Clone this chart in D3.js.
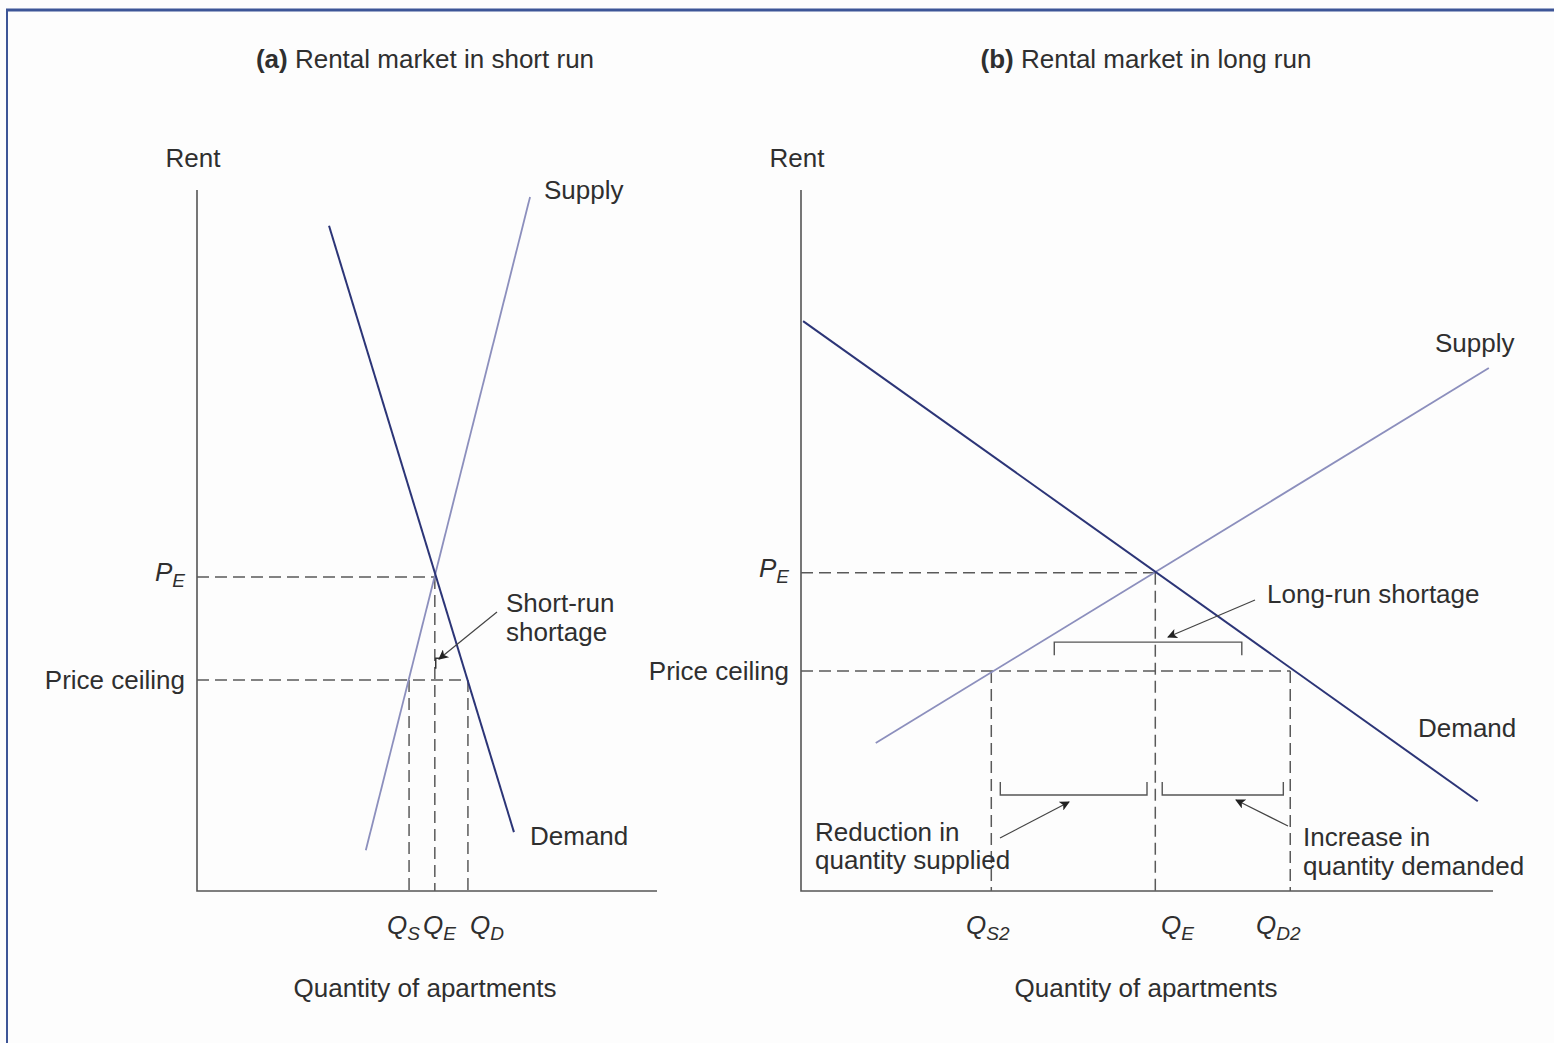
<!DOCTYPE html>
<html><head><meta charset="utf-8">
<script src="https://cdn.jsdelivr.net/npm/d3@7"></script>
<style>
html,body{margin:0;padding:0;background:#fdfdfd;}
svg{display:block;}
text{font-family:"Liberation Sans",Arial,sans-serif;fill:#2f2f2f;}
</style></head>
<body>
<svg id="chart" width="1554" height="1043"></svg>
<script>
// ---------- data (arbitrary units, 0-100 on both axes) ----------
const panelTitles = ["Rental market in short run", "Rental market in long run"];
const panelTags = ["(a)", "(b)"];
// panel (a): short run
const demandA = [[28.7, 94.9], [68.9, 8.4]];
const supplyA = [[36.7, 5.8], [72.4, 99.0]];
const priceA = {PE: 44.8, ceiling: 30.1};
const qA = {QS: 46.1, QE: 51.7, QD: 58.9};
const qLabelsA = [["Q", "S", 46.1], ["Q", "E", 51.7], ["Q", "D", 58.9]];
// panel (b): long run
const demandB = [[0.3, 81.3], [97.8, 12.8]];
const supplyB = [[10.8, 21.1], [99.4, 74.6]];
const priceB = {PE: 45.4, ceiling: 31.4};
const qB = {QS2: 27.5, QE: 51.2, QD2: 70.7};
const qLabelsB = [["Q", "S2", 27.5], ["Q", "E", 51.2], ["Q", "D2", 70.7]];
// shortage brackets [x0, x1, y]
const bracketLong = [36.6, 63.7, 35.5];
const bracketReduce = [28.8, 50.0, 13.7];
const bracketIncrease = [52.2, 69.7, 13.7];

const svg = d3.select("#chart");
const DEMAND = "#2c3577", SUPPLY = "#8c8fbd", DASH = "#5a5a5a", AXIS = "#555";
const FS = "26px";

// frame
svg.append("line").attr("x1", 6).attr("x2", 1554).attr("y1", 10).attr("y2", 10)
  .attr("stroke", "#3d5597").attr("stroke-width", 3);
svg.append("line").attr("x1", 7).attr("x2", 7).attr("y1", 9).attr("y2", 1043)
  .attr("stroke", "#3d5597").attr("stroke-width", 2);

const defs = svg.append("defs");
defs.append("marker").attr("id", "ah").attr("viewBox", "0 0 10 10")
  .attr("refX", 9).attr("refY", 5).attr("markerWidth", 14).attr("markerHeight", 10)
  .attr("markerUnits", "userSpaceOnUse").attr("orient", "auto")
  .append("path").attr("d", "M0,0 L10,5 L0,10 L2.5,5 Z").attr("fill", "#222");

function qLabel(g, x, y, main, sub, anchor) {
  const t = g.append("text").attr("x", x).attr("y", y).attr("text-anchor", anchor || "start")
    .style("font-style", "italic").style("font-size", "26px");
  t.append("tspan").text(main);
  t.append("tspan").attr("dy", 6).style("font-size", "19px").text(sub);
  return t;
}
function label(g, x, y, s, anchor) {
  return g.append("text").attr("x", x).attr("y", y).attr("text-anchor", anchor || "start")
    .style("font-size", FS).text(s);
}

function panel(cfg) {
  const x = d3.scaleLinear().domain([0, 100]).range([cfg.x0, cfg.x1]);
  const y = d3.scaleLinear().domain([0, 100]).range([891, 190]);
  const g = svg.append("g");
  const line = d3.line().x(d => x(d[0])).y(d => y(d[1]));

  // title
  const tt = g.append("text").attr("x", cfg.titleX).attr("y", 68).attr("text-anchor", "middle").style("font-size", FS);
  tt.append("tspan").style("font-weight", "bold").text(cfg.tag + " ");
  tt.append("tspan").text(cfg.title);

  // axes
  g.append("path").attr("d", `M${x(0)},${y(100)} V${y(0)} H${x(100)}`)
    .attr("fill", "none").attr("stroke", AXIS).attr("stroke-width", 1.6);
  label(g, x(0) - 4, 167, "Rent", "middle");
  label(g, cfg.titleX, 997, "Quantity of apartments", "middle");

  // dashed guides
  const dash = (x1, y1, x2, y2) => g.append("line").attr("x1", x1).attr("y1", y1).attr("x2", x2).attr("y2", y2)
    .attr("stroke", DASH).attr("stroke-width", 1.5).attr("stroke-dasharray", "12,6");
  dash(x(0), y(cfg.PE), x(cfg.qE), y(cfg.PE));
  dash(x(0), y(cfg.ceil), x(cfg.qD), y(cfg.ceil));
  dash(x(cfg.qS), y(cfg.ceil), x(cfg.qS), y(0));
  dash(x(cfg.qE), y(cfg.PE), x(cfg.qE), y(0));
  dash(x(cfg.qD), y(cfg.ceil), x(cfg.qD), y(0));

  // curves
  g.append("path").attr("d", line(cfg.supply)).attr("fill", "none").attr("stroke", SUPPLY).attr("stroke-width", 1.8);
  g.append("path").attr("d", line(cfg.demand)).attr("fill", "none").attr("stroke", DEMAND).attr("stroke-width", 2);

  // price labels
  qLabel(g, x(0) - 12, y(cfg.PE) + 4, "P", "E", "end");
  label(g, x(0) - 12, y(cfg.ceil) + 9, "Price ceiling", "end");

  // quantity labels
  cfg.qLabels.forEach((d, i) => qLabel(g, cfg.qLabelPos[i], 934, d[0], d[1], "start"));

  return {g, x, y};
}

// ---------- panel (a) ----------
const A = panel({x0: 197, x1: 657, titleX: 425, tag: panelTags[0], title: panelTitles[0],
  demand: demandA, supply: supplyA, PE: priceA.PE, ceil: priceA.ceiling,
  qS: qA.QS, qE: qA.QE, qD: qA.QD, qLabels: qLabelsA, qLabelPos: [387, 423, 470]});
label(A.g, 544, 199, "Supply");
label(A.g, 530, 845, "Demand");
label(A.g, 506, 612, "Short-run");
label(A.g, 506, 641, "shortage");
A.g.append("path").attr("d", `M${A.x(51.9)},${A.y(31.7)} V${A.y(33.2)} H${A.x(52.8)}`)
  .attr("fill", "none").attr("stroke", "#333").attr("stroke-width", 1.5);
A.g.append("line").attr("x1", 497).attr("y1", 612).attr("x2", 439).attr("y2", 659)
  .attr("stroke", "#444").attr("stroke-width", 1.2).attr("marker-end", "url(#ah)");

// ---------- panel (b) ----------
const B = panel({x0: 801, x1: 1493, titleX: 1146, tag: panelTags[1], title: panelTitles[1],
  demand: demandB, supply: supplyB, PE: priceB.PE, ceil: priceB.ceiling,
  qS: qB.QS2, qE: qB.QE, qD: qB.QD2, qLabels: qLabelsB, qLabelPos: [966, 1161, 1256]});
label(B.g, 1435, 352, "Supply");
label(B.g, 1418, 737, "Demand");
label(B.g, 1267, 603, "Long-run shortage");
label(B.g, 815, 841, "Reduction in");
label(B.g, 815, 869, "quantity supplied");
label(B.g, 1303, 846, "Increase in");
label(B.g, 1303, 875, "quantity demanded");

function bracket(p, b, dir) {
  const [x0, x1, yv] = b;
  const yy = p.y(yv), tick = 13 * dir;
  p.g.append("path").attr("d", `M${p.x(x0)},${yy + tick} V${yy} H${p.x(x1)} V${yy + tick}`)
    .attr("fill", "none").attr("stroke", "#555").attr("stroke-width", 1.4);
}
bracket(B, bracketLong, 1);
bracket(B, bracketReduce, -1);
bracket(B, bracketIncrease, -1);
const arrow = (x1, y1, x2, y2) => B.g.append("line").attr("x1", x1).attr("y1", y1).attr("x2", x2).attr("y2", y2)
  .attr("stroke", "#444").attr("stroke-width", 1.2).attr("marker-end", "url(#ah)");
arrow(1255, 600, 1168, 637);
arrow(1000, 838, 1069, 802);
arrow(1288, 826, 1236, 800);
</script>
</body></html>
